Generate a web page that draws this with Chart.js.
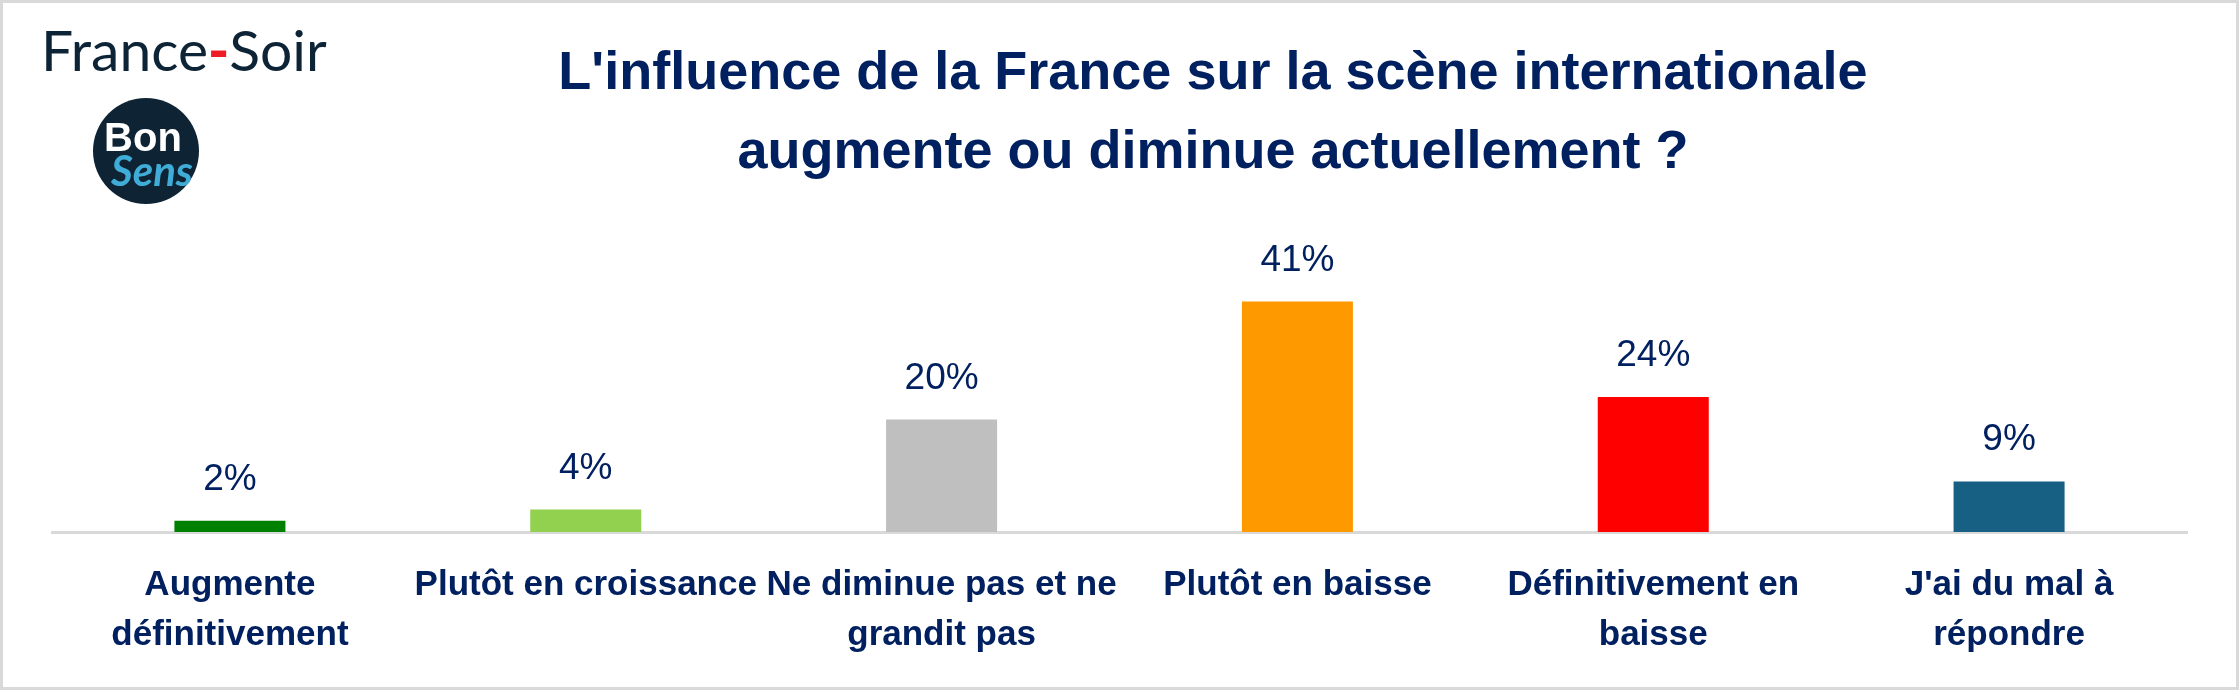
<!DOCTYPE html>
<html>
<head>
<meta charset="utf-8">
<script src="https://cdn.jsdelivr.net/npm/chart.js@4.4.1/dist/chart.umd.min.js"></script>
<style>
  html, body { margin: 0; padding: 0; background: #fff; }
  #wrap { position: relative; width: 2239px; height: 690px; }
  #mychart { position: absolute; left: 0; top: 0; }
  #frame { position: absolute; left: 0; top: 0; width: 2239px; height: 690px; box-sizing: border-box; border: 3px solid #d9d9d9; pointer-events: none; }
</style>
</head>
<body>
<div id="wrap">
  <canvas id="mychart" width="2239" height="690"></canvas>
  <div id="frame"></div>
</div>
<script>
const categories = [
    ["Augmente", "définitivement"],
    "Plutôt en croissance",
    ["Ne diminue pas et ne", "grandit pas"],
    "Plutôt en baisse",
    ["Définitivement en", "baisse"],
    ["J'ai du mal à", "répondre"]
];
const percentages = [2, 4, 20, 41, 24, 9];
const barColors = ["#008000", "#92d050", "#bfbfbf", "#ff9900", "#ff0000", "#176084"];
const titleLines = [
    "L'influence de la France sur la scène internationale",
    "augmente ou diminue actuellement ?"
];

const navy = '#002060';
const mainFont = '"Liberation Sans", Arial, sans-serif';

// percent labels above each bar
const valueLabels = {
    id: 'valueLabels',
    afterDatasetsDraw(chart) {
        const ctx = chart.ctx;
        const meta = chart.getDatasetMeta(0);
        ctx.save();
        ctx.font = '37px ' + mainFont;
        ctx.fillStyle = navy;
        ctx.textAlign = 'center';
        ctx.textBaseline = 'alphabetic';
        meta.data.forEach((bar, i) => {
            ctx.fillText(percentages[i] + '%', bar.x, bar.y - 31);
        });
        ctx.restore();
    }
};

// title and the two logos in the top left corner
const decor = {
    id: 'decor',
    afterDraw(chart) {
        const ctx = chart.ctx;
        ctx.save();
        ctx.textBaseline = 'alphabetic';

        ctx.fillStyle = navy;
        ctx.textAlign = 'center';
        ctx.font = 'bold 54px ' + mainFont;
        ctx.fillText(titleLines[0], 1213, 89);
        ctx.fillText(titleLines[1], 1213, 168);

        // France-Soir
        ctx.textAlign = 'left';
        let x = 41;
        ctx.font = '400 57px Lato';
        ctx.fillStyle = '#0d2436';
        ctx.fillText('France', x, 71);
        x += ctx.measureText('France').width;
        ctx.font = '900 57px Lato';
        ctx.fillStyle = '#ee1c25';
        ctx.fillText('-', x, 71);
        x += ctx.measureText('-').width;
        ctx.font = '400 57px Lato';
        ctx.fillStyle = '#0d2436';
        ctx.fillText('Soir', x, 71);

        // Bon Sens badge
        ctx.beginPath();
        ctx.arc(146, 151, 53, 0, Math.PI * 2);
        ctx.fillStyle = '#0e2434';
        ctx.fill();
        ctx.textAlign = 'center';
        ctx.fillStyle = '#ffffff';
        ctx.font = 'bold 40px ' + mainFont;
        ctx.fillText('Bon', 143, 151);
        ctx.fillStyle = '#40acd8';
        ctx.font = 'italic bold 42px Lato';
        ctx.fillText('Sens', 152, 186);
        ctx.restore();
    }
};

var myChart = new Chart(document.getElementById('mychart'), {
    type: 'bar',
    data: {
        labels: categories,
        datasets: [{
            data: percentages,
            backgroundColor: barColors,
            barPercentage: 0.312,
            categoryPercentage: 1
        }]
    },
    options: {
        responsive: false,
        animation: false,
        devicePixelRatio: 1,
        layout: {
            padding: { top: 251, left: 52, right: 52, bottom: 0 }
        },
        plugins: {
            legend: { display: false },
            tooltip: { enabled: false }
        },
        scales: {
            y: { display: false, min: 0, max: 50 },
            x: {
                grid: { display: false, drawTicks: false },
                border: { display: true, color: '#d9d9d9', width: 3 },
                ticks: {
                    color: navy,
                    font: { family: mainFont, size: 35, weight: 'bold', lineHeight: 1.43 },
                    padding: 28,
                    autoSkip: false,
                    maxRotation: 0,
                    minRotation: 0
                },
                afterFit(scale) {
                    scale.height = 158;
                }
            }
        }
    },
    plugins: [valueLabels, decor]
});
</script>
</body>
</html>
